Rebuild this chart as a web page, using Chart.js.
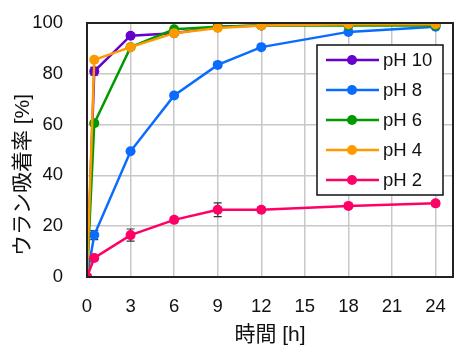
<!DOCTYPE html>
<html>
<head>
<meta charset="utf-8">
<script src="https://cdn.jsdelivr.net/npm/chart.js@4/dist/chart.umd.min.js"></script>
<style>
  html, body { margin: 0; padding: 0; background: #fff; }
  #wrap { width: 458px; height: 346px; }
</style>
</head>
<body>
<div id="wrap"><canvas id="chart" width="458" height="346"></canvas></div>
<script>
// 時間 [h]
const hours = [0, 0.5, 3, 6, 9, 12, 18, 24];
const xTicks = [0, 3, 6, 9, 12, 15, 18, 21, 24];
const yTicks = [0, 20, 40, 60, 80, 100];

const seriesNames = ['pH 10', 'pH 8', 'pH 6', 'pH 4', 'pH 2'];
const seriesColors = ['#6600CC', '#0A6CFF', '#009900', '#FF9900', '#FF0066'];

// ウラン吸着率 [%]
const ph10 = [0, 81, 95, 96, 98.5, 99, 99.5, 99.5];
const ph8 = [0, 16.5, 49.5, 71.5, 83.5, 90.5, 96.5, 98.5];
const ph6 = [0, 60.5, 90.5, 97.5, 98.5, 99, 99, 99];
const ph4 = [0, 85.5, 90.5, 96, 98, 99, 99.5, 99.5];
const ph2 = [0, 7.5, 16.5, 22.5, 26.5, 26.5, 28, 29];

// error bars (±)
const err10 = [0, 1.5, 0.5, 0.5, 0.5, 0.5, 0.5, 0.5];
const err8 = [0, 1.8, 0.5, 0.5, 0.5, 0.5, 0.5, 0.5];
const err6 = [0, 1, 0.5, 0.5, 0.5, 0.5, 0.5, 0.5];
const err4 = [0, 0.5, 0.5, 0.5, 0.5, 0.5, 0.5, 0.5];
const err2 = [0, 1, 2.4, 1, 2.7, 1, 0.8, 1];

const allValues = [ph10, ph8, ph6, ph4, ph2];
const allErrors = [err10, err8, err6, err4, err2];

const yTitle = 'ウラン吸着率 [%]';
const xTitle = '時間 [h]';

const latin = '"Liberation Sans", Arial, sans-serif';
const jp = '"Liberation Sans", "Noto Sans CJK JP", sans-serif';

const datasets = allValues.map((vals, i) => ({
  label: seriesNames[i],
  data: hours.map((h, j) => ({ x: h, y: vals[j] })),
  borderColor: seriesColors[i],
  backgroundColor: seriesColors[i],
  borderWidth: 2.5,
  pointRadius: 5,
  pointHoverRadius: 5,
  pointBorderWidth: 0,
  order: 5 - i,
  errors: allErrors[i]
}));

const errorBars = {
  id: 'errorBars',
  beforeDatasetsDraw(chart) {
    const ctx = chart.ctx;
    const xs = chart.scales.x, ys = chart.scales.y;
    ctx.save();
    ctx.strokeStyle = '#333';
    ctx.lineWidth = 1.2;
    chart.data.datasets.forEach(ds => {
      ds.data.forEach((p, j) => {
        const e = ds.errors[j];
        if (!e) return;
        const x = xs.getPixelForValue(p.x);
        const y1 = ys.getPixelForValue(p.y - e);
        const y2 = ys.getPixelForValue(Math.min(p.y + e, 100.5));
        ctx.beginPath();
        ctx.moveTo(x, y1); ctx.lineTo(x, y2);
        ctx.moveTo(x - 4, y1); ctx.lineTo(x + 4, y1);
        ctx.moveTo(x - 4, y2); ctx.lineTo(x + 4, y2);
        ctx.stroke();
      });
    });
    ctx.restore();
  }
};

const frame = {
  id: 'frame',
  afterDatasetsDraw(chart) {
    const a = chart.chartArea;
    const ctx = chart.ctx;
    ctx.save();
    ctx.strokeStyle = '#222';
    ctx.lineWidth = 2;
    ctx.strokeRect(a.left, a.top, a.right - a.left, a.bottom - a.top);
    ctx.restore();
  }
};

// y axis title sits a bit below the middle of the plot, like the original
const sideTitle = {
  id: 'sideTitle',
  afterDraw(chart) {
    const ctx = chart.ctx;
    ctx.save();
    ctx.translate(23, 175);
    ctx.rotate(-Math.PI / 2);
    ctx.font = '21px ' + jp;
    ctx.fillStyle = '#111';
    ctx.textAlign = 'center';
    ctx.textBaseline = 'middle';
    ctx.fillText(yTitle, 0, 0);
    ctx.restore();
  }
};

const boxLegend = {
  id: 'boxLegend',
  afterDraw(chart) {
    const ctx = chart.ctx;
    const left = 317, top = 45, w = 126, h = 150;
    ctx.save();
    ctx.fillStyle = '#fff';
    ctx.fillRect(left, top, w, h);
    ctx.strokeStyle = '#111';
    ctx.lineWidth = 1.5;
    ctx.strokeRect(left, top, w, h);
    ctx.font = '18.5px ' + latin;
    ctx.textBaseline = 'middle';
    chart.data.datasets.forEach((ds, i) => {
      const y = top + 15 + i * 30;
      ctx.strokeStyle = ds.borderColor;
      ctx.lineWidth = 2.5;
      ctx.beginPath();
      ctx.moveTo(left + 9, y); ctx.lineTo(left + 62, y);
      ctx.stroke();
      ctx.fillStyle = ds.borderColor;
      ctx.beginPath();
      ctx.arc(left + 35, y, 5, 0, Math.PI * 2);
      ctx.fill();
      ctx.fillStyle = '#111';
      ctx.fillText(ds.label, left + 66, y + 1);
    });
    ctx.restore();
  }
};

new Chart(document.getElementById('chart'), {
  type: 'line',
  data: { datasets },
  options: {
    responsive: false,
    animation: false,
    layout: { padding: { left: 0, right: 2, top: 23, bottom: 0 } },
    plugins: { legend: { display: false }, tooltip: { enabled: false } },
    scales: {
      x: {
        type: 'linear',
        min: 0,
        max: 25.2,
        afterBuildTicks: s => { s.ticks = xTicks.map(v => ({ value: v })); },
        afterFit: s => { s.height = 69; s.paddingLeft = 0; s.paddingRight = 0; },
        grid: { color: '#c8c8c8', lineWidth: 1.5, drawTicks: false },
        border: { display: false },
        ticks: { color: '#111', font: { family: latin, size: 18.5 }, padding: 19, maxRotation: 0 },
        title: { display: true, text: xTitle, color: '#111', font: { family: jp, size: 21, lineHeight: 1 }, padding: { top: 0, bottom: 0 } }
      },
      y: {
        min: 0,
        max: 100,
        afterBuildTicks: s => { s.ticks = yTicks.map(v => ({ value: v })); },
        afterFit: s => { s.width = 87; s.paddingTop = 0; s.paddingBottom = 0; },
        grid: { color: '#c8c8c8', lineWidth: 1.5, drawTicks: false },
        border: { display: false },
        ticks: { color: '#111', font: { family: latin, size: 18.5 }, padding: 24 },
        title: { display: false }
      }
    }
  },
  plugins: [errorBars, frame, sideTitle, boxLegend]
});
</script>
</body>
</html>
